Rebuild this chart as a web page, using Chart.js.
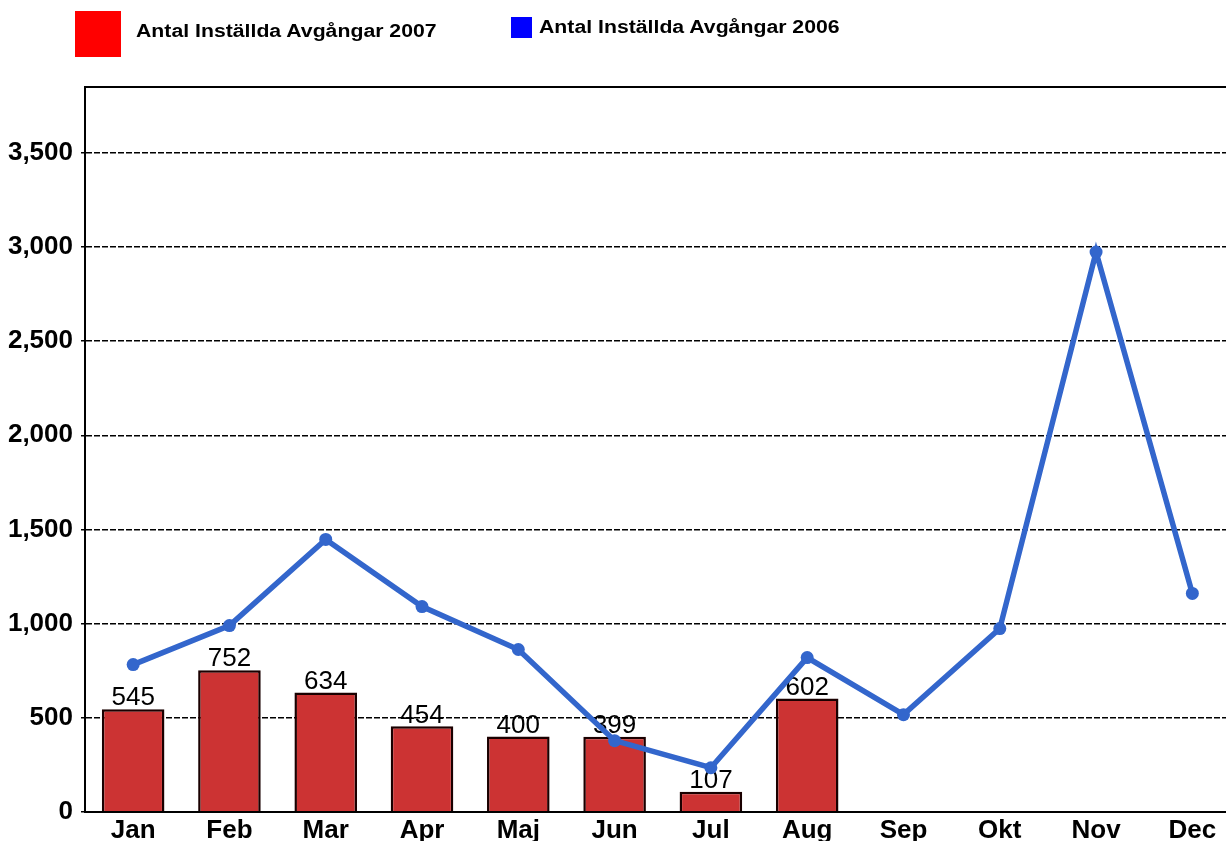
<!DOCTYPE html>
<html lang="sv">
<head>
<meta charset="utf-8">
<title>Antal Inställda Avgångar</title>
<script src="https://cdn.jsdelivr.net/npm/chart.js@4.4.1/dist/chart.umd.min.js"></script>
<style>
  html, body { margin: 0; padding: 0; background: #fff; overflow: hidden; }
  #wrap { position: relative; width: 1226px; height: 841px; overflow: hidden; }
  #chartAvgangar { position: absolute; left: 0; top: 0; }
  .leg-box { position: absolute; }
  .leg-text {
    position: absolute;
    font-family: "Liberation Sans", Arial, sans-serif;
    font-weight: bold;
    font-size: 18px;
    line-height: 20px;
    white-space: nowrap;
    transform-origin: left center;
    transform: scaleX(1.18);
    color: #000;
  }
</style>
</head>
<body>
<div id="wrap">
  <canvas id="chartAvgangar" width="1247" height="849"></canvas>
  <div id="legenda"></div>
</div>
<script>
/* global Chart */

var manader = ["Jan", "Feb", "Mar", "Apr", "Maj", "Jun", "Jul", "Aug", "Sep", "Okt", "Nov", "Dec"];
var installda2007 = [545, 752, 634, 454, 400, 399, 107, 602];
var installda2006 = [782, 989, 1447, 1090, 862, 378, 234, 819, 516, 973, 2973, 1160];
var yTicks = [0, 500, 1000, 1500, 2000, 2500, 3000, 3500];
var serieNamn = ["Antal Inställda Avgångar 2007", "Antal Inställda Avgångar 2006"];

var FONT = "'Liberation Sans', Arial, sans-serif";

document.addEventListener("DOMContentLoaded", function () {
  ritaLegend();

  var ctx = document.getElementById("chartAvgangar").getContext("2d");

  // Etiketter ovanför staplarna (ritas före linjen så att linjen ligger över)
  var stapelEtiketter = {
    id: "stapelEtiketter",
    afterDatasetDraw: function (chart, args) {
      if (args.index !== 0) return;
      var c = chart.ctx;
      c.save();
      c.font = "26px " + FONT;
      c.fillStyle = "#000";
      c.textAlign = "center";
      c.textBaseline = "bottom";
      args.meta.data.forEach(function (bar, i) {
        c.fillText(String(installda2007[i]), bar.x, bar.y + 2);
      });
      c.restore();
    }
  };

  new Chart(ctx, {
    type: "bar",
    data: {
      labels: manader,
      datasets: [
        {
          type: "bar",
          label: serieNamn[0],
          data: installda2007,
          backgroundColor: "#CC3333",
          borderColor: "#1a0000",
          borderWidth: 2.5,
          barPercentage: 0.65,
          categoryPercentage: 1,
          order: 1
        },
        {
          type: "line",
          label: serieNamn[1],
          data: installda2006,
          borderColor: "#3366CC",
          backgroundColor: "#3366CC",
          borderWidth: 5.5,
          pointRadius: 6.5,
          pointHoverRadius: 6.5,
          pointBorderWidth: 0,
          tension: 0,
          order: 0
        }
      ]
    },
    options: {
      responsive: false,
      animation: false,
      layout: { padding: { top: 87, left: 0, right: 0, bottom: 0 } },
      plugins: {
        legend: { display: false },
        tooltip: { enabled: false }
      },
      scales: {
        x: {
          grid: { display: false, drawTicks: false },
          border: { display: true, color: "#000", width: 2 },
          ticks: {
            color: "#000",
            padding: 3,
            maxRotation: 0,
            font: { family: FONT, size: 26, weight: "bold" }
          }
        },
        xTop: {
          position: "top",
          labels: manader,
          type: "category",
          grid: { display: false, drawTicks: false },
          border: { display: true, color: "#000", width: 2 },
          ticks: { display: false }
        },
        y: {
          min: 0,
          max: 3850,
          afterBuildTicks: function (scale) {
            scale.ticks = yTicks.map(function (v) { return { value: v }; });
          },
          afterFit: function (scale) {
            scale.width = 85;
          },
          grid: {
            color: "#000",
            lineWidth: 1.5,
            tickLength: 4,
            tickBorderDash: [6, 2]
          },
          border: { display: true, color: "#000", width: 2, dash: [6, 2] },
          ticks: {
            color: "#000",
            padding: 8,
            font: { family: FONT, size: 26, weight: "bold" },
            callback: function (v) {
              return v.toLocaleString("en-US");
            }
          }
        }
      }
    },
    plugins: [stapelEtiketter]
  });
});

function ritaLegend() {
  var leg = document.getElementById("legenda");
  var poster = [
    { namn: serieNamn[0], farg: "#FF0000", box: [75, 11, 46, 46], text: [136, 21] },
    { namn: serieNamn[1], farg: "#0000FF", box: [511, 17, 21, 21], text: [539, 17] }
  ];
  poster.forEach(function (p) {
    var b = document.createElement("div");
    b.className = "leg-box";
    b.style.left = p.box[0] + "px";
    b.style.top = p.box[1] + "px";
    b.style.width = p.box[2] + "px";
    b.style.height = p.box[3] + "px";
    b.style.background = p.farg;
    leg.appendChild(b);

    var t = document.createElement("div");
    t.className = "leg-text";
    t.style.left = p.text[0] + "px";
    t.style.top = p.text[1] + "px";
    t.textContent = p.namn;
    leg.appendChild(t);
  });
}
</script>
</body>
</html>
